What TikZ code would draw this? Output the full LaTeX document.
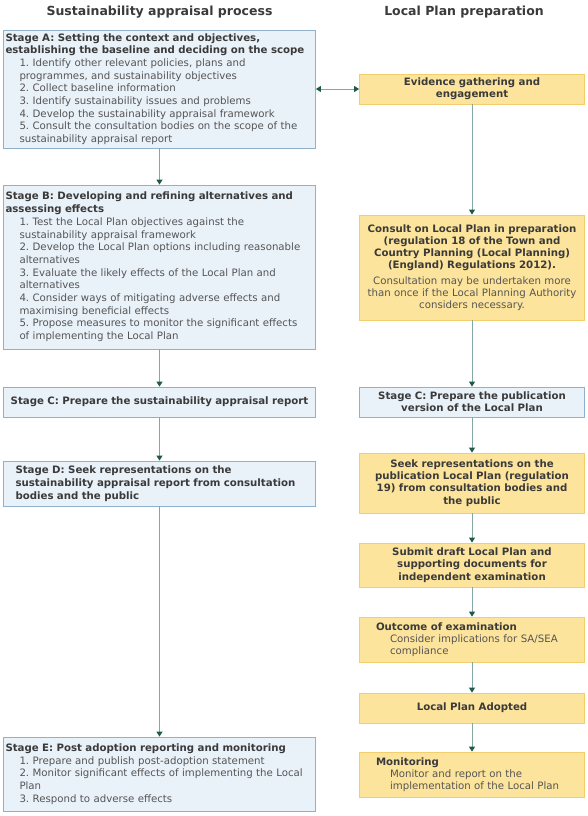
\documentclass[tikz,border=0pt]{standalone}
\usepackage{fontspec}
\setmainfont{DejaVu Sans}
\usepackage{xcolor}
\usepackage{tikz}
\usetikzlibrary{arrows.meta,positioning}
\definecolor{safill}{HTML}{E9F1F9}
\definecolor{saedge}{HTML}{8FB1CC}
\definecolor{lpfill}{HTML}{FDE49C}
\definecolor{lpedge}{HTML}{F3CE6C}
\definecolor{flowline}{HTML}{86A6A2}
\definecolor{tipgreen}{HTML}{1E5A46}
\definecolor{headgray}{HTML}{3A3A3A}
\definecolor{bodygray}{HTML}{555555}
\newcommand{\ind}{\hspace*{14pt}}
\newcommand{\stg}[1]{\textbf{\color{headgray}#1}}
\frenchspacing

\begin{document}
\begin{tikzpicture}[x=1pt, y=-1pt,
    sabox/.style={draw=saedge, fill=safill, line width=0.8pt, text width=308pt, inner xsep=2pt, inner ysep=2pt, align=left, text=bodygray, font=\fontsize{10.2}{12.7}\selectfont},
    lpbox/.style={draw=lpedge, fill=lpfill, line width=0.8pt, text width=220pt, inner xsep=2.5pt, inner ysep=2pt, align=center, text=headgray, font=\fontsize{10.2}{12.2}\selectfont\bfseries},
    title/.style={font=\fontsize{12.5}{14}\selectfont\bfseries, text=headgray},
    flow/.style={draw=flowline, line width=1pt, -{Triangle[length=5pt,width=6pt,color=tipgreen]}},
    twoway/.style={draw=flowline, line width=1pt, {Triangle[length=5pt,width=6pt,color=tipgreen]}-{Triangle[length=5pt,width=6pt,color=tipgreen]}}]
    \useasboundingbox (0,0) rectangle (588,816);
    \node[title] (satitle) at (159.5,12) {Sustainability appraisal process};
    \node[title] (lptitle) at (464,12) {Local Plan preparation};

    % sustainability appraisal column
    \node[sabox, minimum height=118pt] (sa) at (159.5,89) {\stg{Stage A: Setting the context and objectives,}\\ \stg{establishing the baseline and deciding on the scope}\\ \ind 1. Identify other relevant policies, plans and\\ \ind programmes, and sustainability objectives\\ \ind 2. Collect baseline information\\ \ind 3. Identify sustainability issues and problems\\ \ind 4. Develop the sustainability appraisal framework\\ \ind 5. Consult the consultation bodies on the scope of the\\ \ind sustainability appraisal report};
    \node[sabox, minimum height=164pt] (sb) at (159.5,267) {\stg{Stage B: Developing and refining alternatives and}\\ \stg{assessing effects}\\ \ind 1. Test the Local Plan objectives against the\\ \ind sustainability appraisal framework\\ \ind 2. Develop the Local Plan options including reasonable\\ \ind alternatives\\ \ind 3. Evaluate the likely effects of the Local Plan and\\ \ind alternatives\\ \ind 4. Consider ways of mitigating adverse effects and\\ \ind maximising beneficial effects\\ \ind 5. Propose measures to monitor the significant effects\\ \ind of implementing the Local Plan};
    \node[sabox, align=center, minimum height=30pt] (sc) at (159.5,402) {\stg{Stage C: Prepare the sustainability appraisal report}};
    \node[sabox, minimum height=45pt] (sd) at (159.5,483.5) {\hspace*{10pt}\stg{Stage D: Seek representations on the}\\ \hspace*{10pt}\stg{sustainability appraisal report from consultation}\\ \hspace*{10pt}\stg{bodies and the public}};
    \node[sabox, minimum height=74pt] (se) at (159.5,774) {\stg{Stage E: Post adoption reporting and monitoring}\\ \ind 1. Prepare and publish post-adoption statement\\ \ind 2. Monitor significant effects of implementing the Local\\ \ind Plan\\ \ind 3. Respond to adverse effects};

    % local plan column
    \node[lpbox, minimum height=30pt] (ev) at (472,89) {Evidence gathering and\\ engagement};
    \node[lpbox, minimum height=105pt] (consult) at (472,267.5) {Consult on Local Plan in preparation\\ (regulation 18 of the Town and\\ Country Planning (Local Planning)\\ (England) Regulations 2012).\\[3pt] \mdseries\color{bodygray}Consultation may be undertaken more\\ than once if the Local Planning Authority\\ considers necessary.};
    \node[sabox, text width=220pt, inner xsep=2.5pt, align=center, minimum height=30pt, font=\fontsize{10.2}{12.2}\selectfont] (pub) at (472,402) {\stg{Stage C: Prepare the publication}\\ \stg{version of the Local Plan}};
    \node[lpbox, minimum height=60pt] (seek) at (472,483) {Seek representations on the\\ publication Local Plan (regulation\\ 19) from consultation bodies and\\ the public};
    \node[lpbox, minimum height=44pt] (submit) at (472,565) {Submit draft Local Plan and\\ supporting documents for\\ independent examination};
    \node[lpbox, align=left, minimum height=45pt] (outcome) at (472,639.5) {\hspace*{14pt}Outcome of examination\\ \mdseries\color{bodygray}\hspace*{28pt}Consider implications for SA/SEA\\ \hspace*{28pt}compliance};
    \node[lpbox, minimum height=30pt] (adopted) at (472,708) {Local Plan Adopted};
    \node[lpbox, align=left, minimum height=45pt] (monitor) at (472,774.5) {\hspace*{14pt}Monitoring\\ \mdseries\color{bodygray}\hspace*{28pt}Monitor and report on the\\ \hspace*{28pt}implementation of the Local Plan};

    % connectors
    \draw[flow] (sa) -- (sb);
    \draw[flow] (sb) -- (sc);
    \draw[flow] (sc) -- (sd);
    \draw[flow] (sd) -- (se);
    \draw[twoway] (sa.east) -- (ev.west);
    \draw[flow] (ev) -- (consult);
    \draw[flow] (consult) -- (pub);
    \draw[flow] (pub) -- (seek);
    \draw[flow] (seek) -- (submit);
    \draw[flow] (submit) -- (outcome);
    \draw[flow] (outcome) -- (adopted);
    \draw[flow] (adopted) -- (monitor);
\end{tikzpicture}
\end{document}
